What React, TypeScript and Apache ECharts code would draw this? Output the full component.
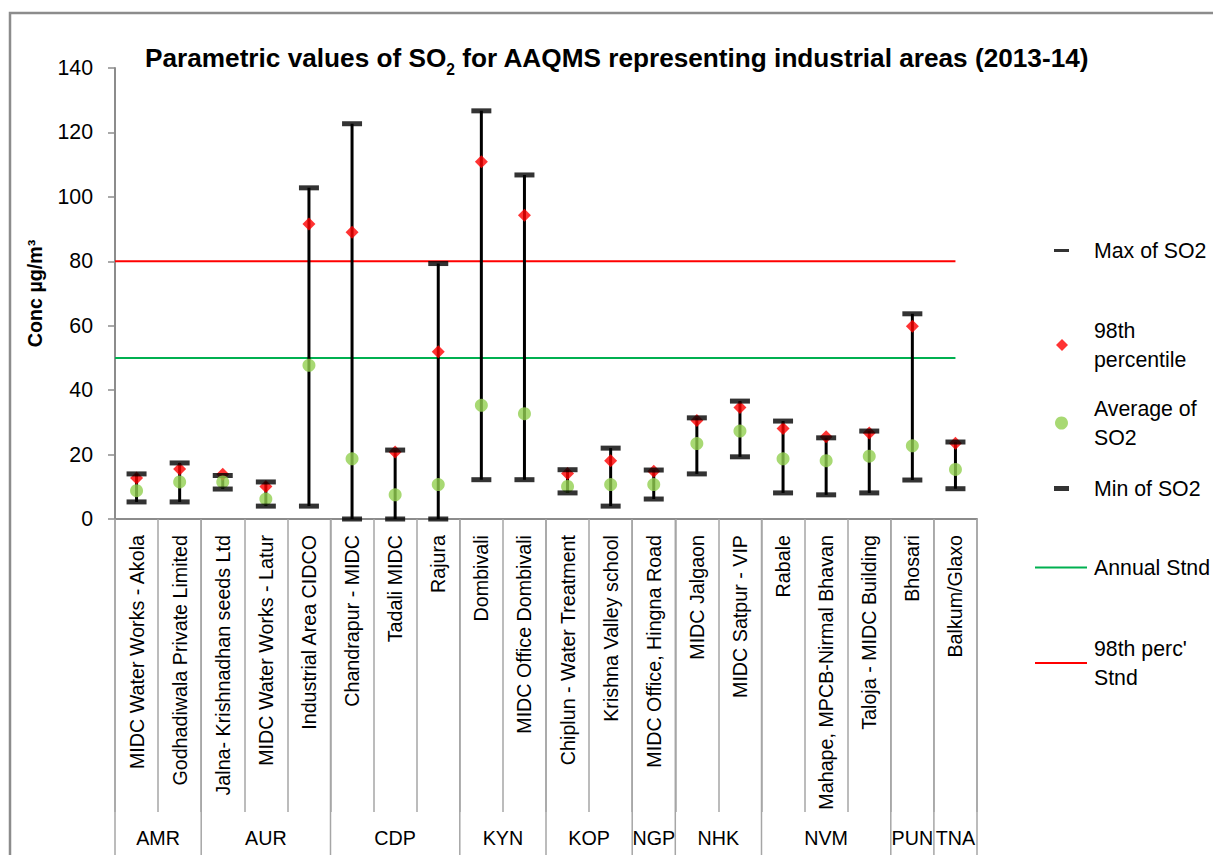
import React, { useEffect, useRef } from "react";
import * as echarts from "echarts";

const categories = [
  "MIDC Water Works - Akola",
  "Godhadiwala Private Limited",
  "Jalna- Krishnadhan seeds Ltd",
  "MIDC Water Works - Latur",
  "Industrial Area CIDCO",
  "Chandrapur - MIDC",
  "Tadali MIDC",
  "Rajura",
  "Dombivali",
  "MIDC Office Dombivali",
  "Chiplun - Water Treatment",
  "Krishna Valley school",
  "MIDC Office, Hingna Road",
  "MIDC Jalgaon",
  "MIDC Satpur - VIP",
  "Rabale",
  "Mahape, MPCB-Nirmal Bhavan",
  "Taloja - MIDC Building",
  "Bhosari",
  "Balkum/Glaxo",
];

const groupNames = ["AMR", "AUR", "CDP", "KYN", "KOP", "NGP", "NHK", "NVM", "PUN", "TNA"];
const groupCounts = [2, 3, 3, 2, 2, 1, 2, 3, 1, 1];

const maxSO2 = [14.0, 17.4, 13.5, 11.5, 102.8, 122.7, 21.4, 79.3, 126.7, 106.8, 15.3, 22.0, 15.2, 31.4, 36.6, 30.4, 25.2, 27.3, 63.7, 23.9];
const p98SO2 = [12.7, 15.5, 13.9, 10.1, 91.6, 89.0, 20.8, 51.9, 110.9, 94.3, 14.1, 18.1, 14.8, 30.6, 34.6, 28.1, 25.5, 26.7, 59.8, 23.5];
const avgSO2 = [8.8, 11.5, 11.5, 6.2, 47.7, 18.7, 7.5, 10.7, 35.3, 32.7, 10.1, 10.7, 10.7, 23.4, 27.3, 18.7, 18.1, 19.5, 22.7, 15.4];
const minSO2 = [5.3, 5.3, 9.3, 4.0, 4.0, 0, 0, 0, 12.2, 12.2, 8.1, 4.0, 6.2, 14.0, 19.3, 8.1, 7.5, 8.1, 12.1, 9.4];

const standardValues = [50, 80];
const standardNames = ["Annual Stnd", "98th perc' Stnd"];
const standardColors = ["#00B050", "#FF0000"];

const yTicks = { min: 0, max: 140, interval: 20 };

function hasFont(name: string): boolean {
  try {
    const c = document.createElement("canvas").getContext("2d");
    if (!c) return false;
    const s = "Max of SO2 Parametric values";
    c.font = "40px monospace";
    const a = c.measureText(s).width;
    c.font = `40px "${name}", monospace`;
    const b = c.measureText(s).width;
    return Math.abs(a - b) > 0.5;
  } catch (e) {
    return false;
  }
}

export default function App() {
  const ref = useRef<HTMLDivElement>(null);

  useEffect(() => {
    if (!ref.current) return;
    const narrow = hasFont("Liberation Sans Narrow");
    const F = narrow ? '"Liberation Sans Narrow", "Arial Narrow", sans-serif' : '"Liberation Sans", Arial, sans-serif';
    const k = narrow ? 1 : 0.82;
    const fs = (n: number) => Math.round(n * k * 10) / 10;

    const chart = echarts.init(ref.current, null, { renderer: "svg" });
    const gray = "#8c8c8c";

    const legendBase = (name: string, top: number, left: number, iw: number, ih: number, icon: string, pad: number, label?: string) => ({
      show: true,
      data: [{ name, icon }],
      orient: "vertical",
      left,
      top,
      padding: 0,
      itemWidth: iw,
      itemHeight: ih,
      selectedMode: false,
      formatter: label ? () => label : undefined,
      textStyle: {
        fontFamily: F,
        fontSize: fs(26),
        lineHeight: 29,
        color: "#000",
        padding: [0, 0, 0, pad],
      },
    });

    const option: any = {
      animation: false,
      backgroundColor: "#fff",
      title: {
        text: "{b|Parametric values of SO}{s|2}{b| for AAQMS representing industrial areas (2013-14)}",
        left: 140,
        top: 34,
        textStyle: {
          rich: {
            b: { fontFamily: F, fontSize: fs(32), fontWeight: "bold", color: "#000", lineHeight: 38, verticalAlign: "middle" },
            s: { fontFamily: F, fontSize: fs(19), fontWeight: "bold", color: "#000", lineHeight: 38, verticalAlign: "bottom", padding: [16, 0, 0, 0] },
          },
        },
      },
      grid: { left: 115, right: 236, top: 68, bottom: 336, containLabel: false },
      legend: [
        legendBase("Max of SO2", 236, 1054, 15, 3, "rect", 20),
        legendBase("98th percentile", 316, 1056, 12, 12, "diamond", 21, "98th\npercentile"),
        legendBase("Average of SO2", 394, 1055, 13, 13, "circle", 21, "Average of\nSO2"),
        legendBase("Min of SO2", 474, 1054, 15, 5, "rect", 20),
        legendBase(standardNames[0], 553, 1035, 52, 2, "rect", 2),
        legendBase(standardNames[1], 634, 1035, 52, 2, "rect", 2, "98th perc'\nStnd"),
      ],
      xAxis: {
        type: "category",
        data: categories,
        boundaryGap: true,
        axisLine: { show: true, lineStyle: { color: gray, width: 2 } },
        axisTick: { show: true, interval: 0, length: 293, lineStyle: { color: "#a6a6a6", width: 1.5 } },
        axisLabel: {
          interval: 0,
          rotate: 90,
          margin: 16,
          fontFamily: F,
          fontSize: fs(24),
          color: "#000",
        },
        splitLine: { show: false },
      },
      yAxis: {
        type: "value",
        min: yTicks.min,
        max: yTicks.max,
        interval: yTicks.interval,
        name: "Conc µg/m³",
        nameLocation: "middle",
        nameRotate: 90,
        nameGap: 70,
        nameTextStyle: { fontFamily: F, fontSize: fs(24), fontWeight: "bold", color: "#000" },
        axisLine: { show: true, lineStyle: { color: gray, width: 2 } },
        axisTick: { show: true, length: 7, lineStyle: { color: gray, width: 1.5 } },
        axisLabel: { margin: 22, fontFamily: F, fontSize: fs(26), color: "#000" },
        splitLine: { show: false },
      },
      series: [
        {
          name: standardNames[0],
          type: "line",
          data: [],
          color: standardColors[0],
          lineStyle: { color: standardColors[0], width: 2 },
        },
        {
          name: standardNames[1],
          type: "line",
          data: [],
          color: standardColors[1],
          lineStyle: { color: standardColors[1], width: 2 },
        },
        {
          name: "standards",
          type: "custom",
          data: standardValues.map((v, i) => [v, i]),
          renderItem: (params: any, api: any) => {
            const v = api.value(0);
            const ci = api.value(1);
            const band = api.size([1, 0])[0];
            const a = api.coord([0, v]);
            const b = api.coord([categories.length - 1, v]);
            return {
              type: "line",
              shape: { x1: a[0] - band / 2, y1: a[1], x2: b[0], y2: b[1] },
              style: { stroke: standardColors[ci], lineWidth: 2 },
            };
          },
          encode: { y: 0 },
          z: 1,
          silent: true,
        },
        {
          name: "hilo",
          type: "custom",
          data: categories.map((_, i) => [i, minSO2[i], maxSO2[i]]),
          renderItem: (params: any, api: any) => {
            const i = api.value(0);
            const a = api.coord([i, api.value(1)]);
            const b = api.coord([i, api.value(2)]);
            return {
              type: "line",
              shape: { x1: a[0], y1: a[1], x2: b[0], y2: b[1] },
              style: { stroke: "#000", lineWidth: 3 },
            };
          },
          z: 2,
          silent: true,
        },
        {
          name: "98th percentile",
          type: "scatter",
          data: p98SO2,
          symbol: "diamond",
          symbolSize: 13,
          itemStyle: { color: "#FF0000" },
          z: 3,
        },
        {
          name: "Max of SO2",
          type: "scatter",
          data: maxSO2,
          symbol: "rect",
          symbolSize: [20, 5],
          itemStyle: { color: "#000" },
          z: 4,
        },
        {
          name: "Average of SO2",
          type: "scatter",
          data: avgSO2,
          symbol: "circle",
          symbolSize: 13,
          itemStyle: { color: "#92D050" },
          z: 5,
        },
        {
          name: "Min of SO2",
          type: "scatter",
          data: minSO2,
          symbol: "rect",
          symbolSize: [20, 5],
          itemStyle: { color: "#000" },
          z: 6,
        },
      ],
    };

    chart.setOption(option);

    // group separators and labels, positioned through the category axis scale
    const c0 = chart.convertToPixel({ xAxisIndex: 0 }, 0) as number;
    const c1 = chart.convertToPixel({ xAxisIndex: 0 }, 1) as number;
    const w = c1 - c0;
    const yBase = chart.convertToPixel({ yAxisIndex: 0 }, 0) as number;
    const elements: any[] = [
      {
        type: "rect",
        shape: { x: 10, y: 13, width: 1400, height: 1000 },
        style: { fill: "none", stroke: "#8c8c8c", lineWidth: 2.5 },
        silent: true,
        z: 0,
      },
    ];
    let start = 0;
    const bx = (idx: number) => c0 + (idx - 0.5) * w;
    elements.push({
      type: "line",
      shape: { x1: bx(0), y1: yBase, x2: bx(0), y2: 860 },
      style: { stroke: "#a6a6a6", lineWidth: 1.5 },
      silent: true,
    });
    groupNames.forEach((g, gi) => {
      const n = groupCounts[gi];
      const left = bx(start);
      const right = bx(start + n);
      elements.push({
        type: "line",
        shape: { x1: right, y1: yBase, x2: right, y2: 860 },
        style: { stroke: "#a6a6a6", lineWidth: 1.5 },
        silent: true,
      });
      elements.push({
        type: "text",
        x: (left + right) / 2,
        y: 838,
        style: {
          text: g,
          fontFamily: F,
          fontSize: fs(24),
          fill: "#000",
          align: "center",
          verticalAlign: "middle",
        },
        silent: true,
      });
      start += n;
    });
    chart.setOption({ graphic: { elements } });

    return () => chart.dispose();
  }, []);

  return (
    <div
      ref={ref}
      style={{ position: "fixed", left: 0, top: 0, width: 1213, height: 855, background: "#fff" }}
    />
  );
}
